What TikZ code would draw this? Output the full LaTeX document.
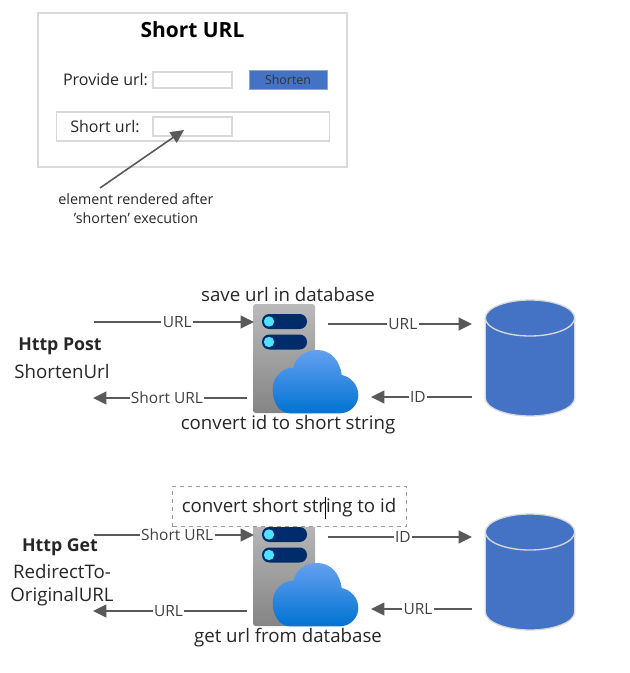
\documentclass[tikz,border=0pt]{standalone}
\usepackage{fontspec}
\setmainfont{Open Sans}
\usetikzlibrary{arrows.meta}

\definecolor{linegray}{HTML}{595959}
\definecolor{boxgray}{HTML}{D9D9D9}
\definecolor{dbblue}{HTML}{4472C4}
\definecolor{barblue}{HTML}{002D69}
\definecolor{ledblue}{HTML}{50E1FF}
\definecolor{cloudtop}{HTML}{64A0F0}
\definecolor{cloudbot}{HTML}{0073D2}

\tikzset{
    flow/.style={draw=linegray, line width=1.2pt, -{Triangle[length=10pt,width=9.5pt]}},
    lbl/.style={fill=white, inner sep=1pt, text=black!75, font=\fontsize{11.6}{13}\selectfont},
    txt/.style={inner sep=0pt, text=black!85, font=\fontsize{14}{17}\selectfont},
    frame/.style={draw=boxgray, line width=1.1pt},
    server/.pic={
        \shade[rounded corners=2pt, top color=black!27, bottom color=black!48] (0,0) rectangle (62,109);
        \foreach \y in {17.5,38} {
            \fill[barblue, rounded corners=5.5pt] (9,{\y-7.5}) rectangle (54,{\y+7.5});
            \fill[ledblue] (16,\y) circle (3.9pt);
        }
        \shade[top color=cloudtop, bottom color=cloudbot]
            (37,109.3) .. controls (26,109.3) and (19.7,98) .. (19.7,86)
            .. controls (19.7,73) and (29,63.7) .. (40.3,63.7)
            .. controls (43,53) and (52,46) .. (64.3,46)
            .. controls (78,46) and (87,57) .. (88.7,71)
            .. controls (98,73) and (105.3,81) .. (105.3,91)
            .. controls (105.3,101) and (97,109.3) .. (87,109.3) -- cycle;
    },
    database/.pic={
        \fill[dbblue] (-44.7,0) -- (-44.7,80) arc (180:0:44.7 and 18) -- (44.7,0) arc (0:-180:44.7 and 18) -- cycle;
        \draw[boxgray, line width=1pt] (-44.7,0) -- (-44.7,80) arc (180:0:44.7 and 18) -- (44.7,0);
        \draw[boxgray, line width=1pt] (0,0) ellipse (44.7 and 18);
    }
}

\begin{document}
\begin{tikzpicture}[x=0.75pt, y=-0.75pt]

\useasboundingbox (0,0) rectangle (630,673);

% Web page
\draw[frame] (38,13) rectangle (347,167);
\node[inner sep=0pt, font=\fontsize{15.7}{19}\selectfont\bfseries] (title) at (192.5,30) {Short URL};

\node[txt, font=\fontsize{12}{14}\selectfont] (provide) at (105.5,80) {Provide url:};
\node[frame, minimum width=59pt, minimum height=12pt, inner sep=0pt] (inputbox) at (192.5,80) {};
\node[fill=dbblue, draw=boxgray!50!dbblue, minimum width=58.5pt, minimum height=14pt, inner sep=0pt, text=black!80, font=\fontsize{9.3}{10}\selectfont] (shorten) at (288,80) {Shorten};

\node[frame, minimum width=205pt, minimum height=21.5pt, inner sep=0pt] (resultrow) at (193,126.5) {};
\node[txt, font=\fontsize{12}{14}\selectfont] (shorturl) at (105,127) {Short url:};
\node[frame, minimum width=59pt, minimum height=14pt, inner sep=0pt] (resultbox) at (192.5,126.5) {};

% Note about the result field
\node[txt, align=center, font=\fontsize{10.7}{14.2}\selectfont] (note) at (136,209) {element rendered after\\'shorten' execution};
\coordinate (noteend) at (100,188);
\coordinate (notetip) at (184,130);
\draw[flow] (noteend)--(notetip);

% Post flow
\pic at (253,304) {server};
\pic at (530,318) {database};
\node[txt] (save) at (288,294) {save url in database};
\node[txt] (convertid) at (288,425) {convert id to short string};
\node[txt, font=\fontsize{13.3}{15}\selectfont\bfseries] (post) at (60,346) {Http Post};
\node[txt] (shortenurl) at (62,371) {ShortenUrl};

\coordinate (a1) at (94,322);  \coordinate (a2) at (254,322);
\coordinate (b1) at (328,324); \coordinate (b2) at (472,324);
\coordinate (c1) at (472,397); \coordinate (c2) at (371,397);
\coordinate (d1) at (247,398); \coordinate (d2) at (93,398);
\draw[flow] (a1)--(a2) node[lbl, pos=0.52] (la) {URL};
\draw[flow] (b1)--(b2) node[lbl, pos=0.52] (lb) {URL};
\draw[flow] (c1)--(c2) node[lbl, pos=0.535] (lc) {ID};
\draw[flow] (d1)--(d2) node[lbl, pos=0.52] (ld) {Short URL};

% Get flow
\pic at (253,517) {server};
\pic at (530,532) {database};
\node[draw=black!40, dashed, line width=0.8pt, fill=white, minimum width=175pt, minimum height=30.5pt, inner sep=0pt] (selbox) at (289.5,506.5) {};
\node[txt] (convertstr) at (289,508) {convert short string to id};
\coordinate (caret1) at (325.7,497);
\coordinate (caret2) at (325.7,519);
\draw[black, line width=0.6pt] (caret1)--(caret2);
\node[txt] (geturl) at (288,638) {get url from database};
\node[txt, font=\fontsize{13.3}{15}\selectfont\bfseries] (get) at (60,547) {Http Get};
\node[txt] (redirect) at (62,571) {RedirectTo-};
\node[txt] (original) at (62,597) {OriginalURL};

\coordinate (e1) at (94,535);  \coordinate (e2) at (254,535);
\coordinate (f1) at (328,537); \coordinate (f2) at (472,537);
\coordinate (g1) at (472,609); \coordinate (g2) at (371,609);
\coordinate (h1) at (247,611); \coordinate (h2) at (93,611);
\draw[flow] (e1)--(e2) node[lbl, pos=0.52] (le) {Short URL};
\draw[flow] (f1)--(f2) node[lbl, pos=0.52] (lf) {ID};
\draw[flow] (g1)--(g2) node[lbl, pos=0.535] (lg) {URL};
\draw[flow] (h1)--(h2) node[lbl, pos=0.51] (lh) {URL};

\end{tikzpicture}
\end{document}
